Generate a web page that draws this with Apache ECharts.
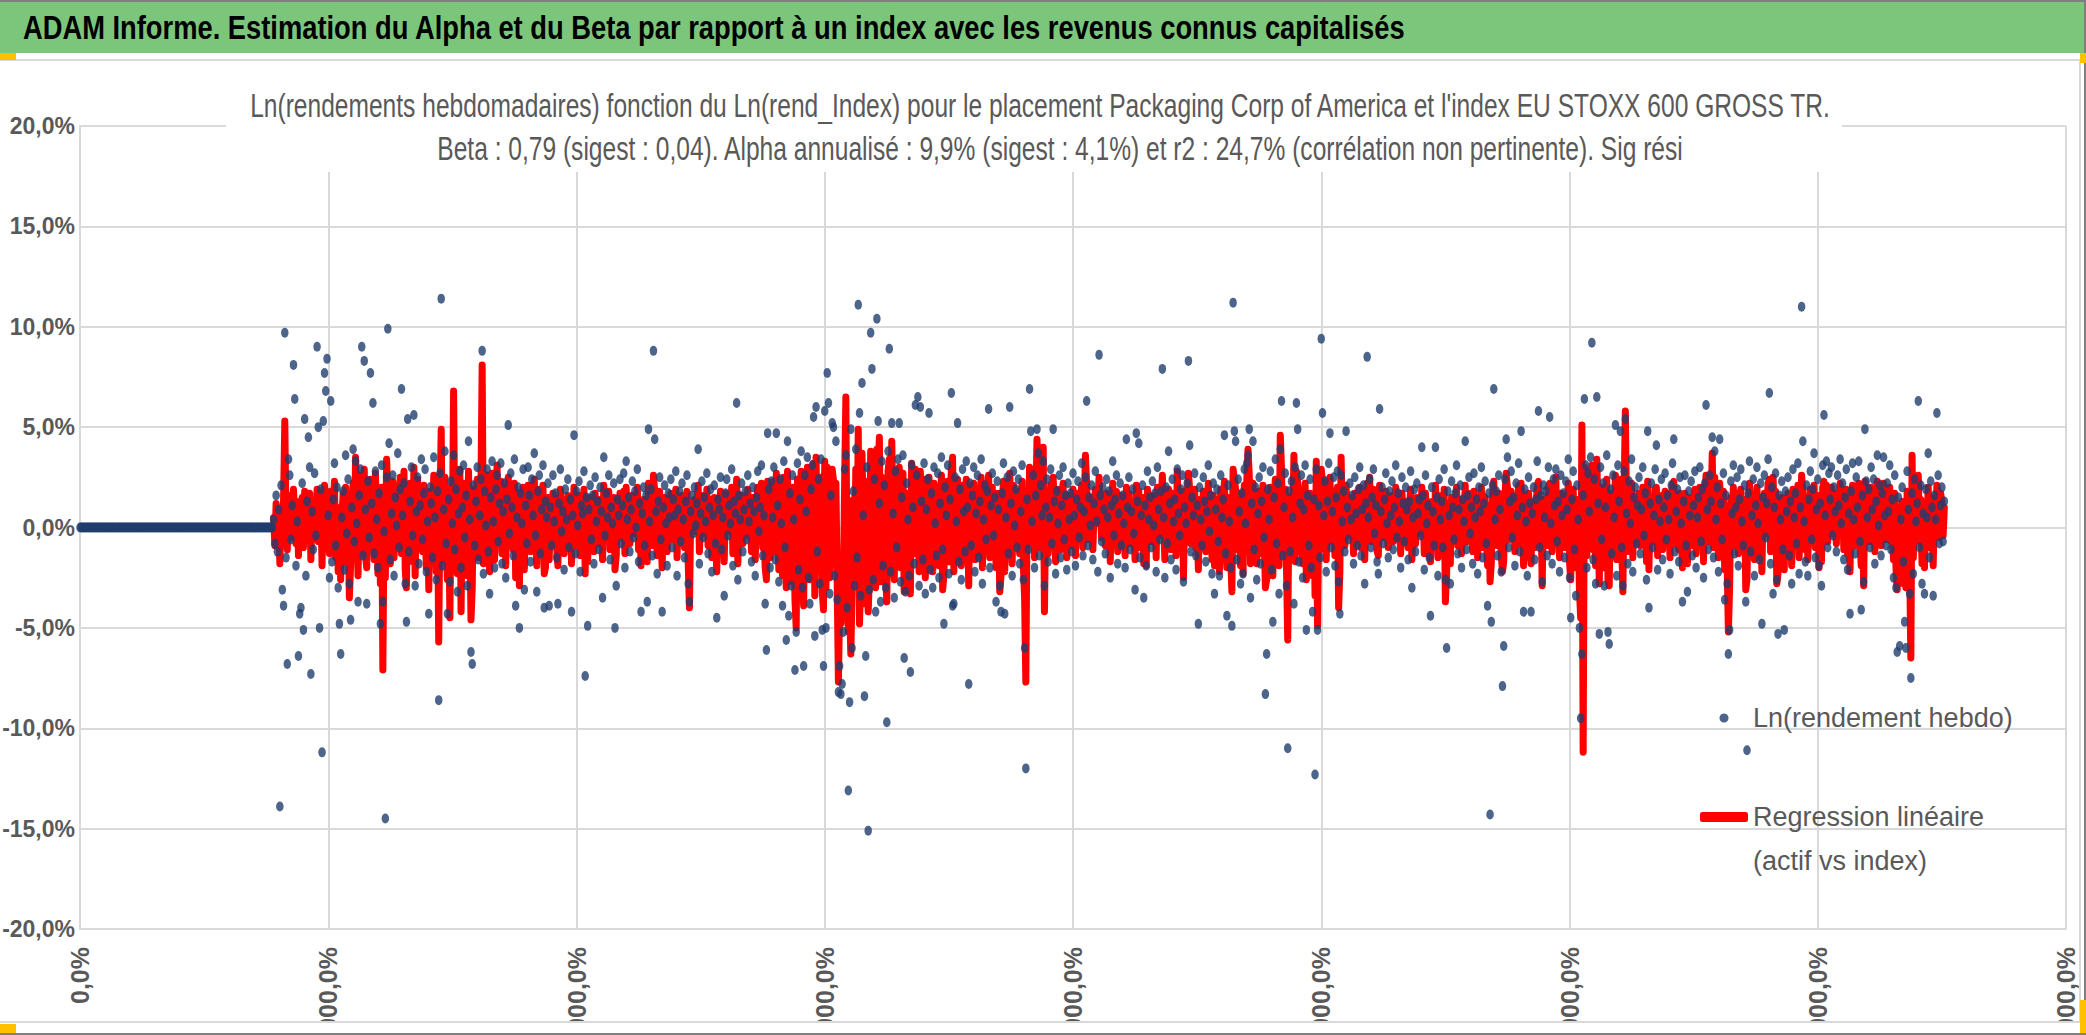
<!DOCTYPE html>
<html lang="fr">
<head>
<meta charset="UTF-8">
<title>ADAM Informe - Alpha et Beta</title>
<script src="https://cdn.jsdelivr.net/npm/echarts@6/dist/echarts.min.js"></script>
<style>
  html, body { margin: 0; padding: 0; background: #fff; }
  #chart { width: 2086px; height: 1035px; }
</style>
</head>
<body>
<div id="chart"></div>
<script>
// textes
const titreBandeau = 'ADAM Informe. Estimation du Alpha et du Beta par rapport à un index avec les revenus connus capitalisés';
const titreGraphique = "Ln(rendements hebdomadaires) fonction du Ln(rend_Index) pour le placement Packaging Corp of America et l'index EU STOXX 600 GROSS TR.";
const sousTitre = 'Beta : 0,79 (sigest : 0,04). Alpha annualisé : 9,9% (sigest : 4,1%) et r2 : 24,7% (corrélation non pertinente). Sig rési';
const nomRend = 'Ln(rendement hebdo)';
const nomReg = 'Regression linéaire';
const nomReg2 = '(actif vs index)';

// axes (valeurs en %)
const yMin = -20, yMax = 20, yPas = 5;
const xMin = 0, xMax = 1600, xPas = 200;

// Ln(rendement hebdo) en %, une valeur par semaine (index 0..1502)
const rendHebdo = [
  0,0,0,0,0,0,0,0,0,0,0,0,0,0,0,0,0,0,0,0,0,0,0,0,0,0,0,0,0,0,0,0,0,0,0,0,0,0,0,
  0,0,0,0,0,0,0,0,0,0,0,0,0,0,0,0,0,0,0,0,0,0,0,0,0,0,0,0,0,0,0,0,0,0,0,0,0,0,0,
  0,0,0,0,0,0,0,0,0,0,0,0,0,0,0,0,0,0,0,0,0,0,0,0,0,0,0,0,0,0,0,0,0,0,0,0,0,0,0,
  0,0,0,0,0,0,0,0,0,0,0,0,0,0,0,0,0,0,0,0,0,0,0,0,0,0,0,0,0,0,0,0,0,0,0,0,0,0,0,
  0.4,-0.8,1.6,-1.2,0.9,-13.9,2.1,-3.1,-3.9,9.7,-1.5,-6.8,3.4,2.6,-0.6,1.1,8.1,6.4,-1.9,0.3,
  -6.4,-4.3,-4.0,2.2,-5.1,5.4,-2.4,1.3,4.5,3.0,-7.3,0.8,-1.1,2.7,-0.4,9.0,5.0,-5.0,1.9,-11.2,
  5.3,7.7,6.8,8.4,0.6,-2.5,6.3,-1.7,1.4,3.2,-0.9,2.0,-3.0,-4.8,-6.3,0.5,1.8,-2.1,3.6,-0.3,
  2.4,-2.8,-4.6,1.0,3.9,-0.7,3.3,0.2,-3.7,1.6,2.9,9.0,-1.4,8.3,0.9,-3.8,2.3,-0.5,7.7,1.2,
  6.2,-1.3,2.8,0.4,-2.0,1.7,-4.8,3.1,-3.7,-0.2,-14.5,2.5,9.9,4.2,-1.6,0.7,2.6,-2.4,1.5,0.1,
  3.7,-1.0,1.9,6.9,0.6,2.2,-2.8,-4.7,5.4,-1.2,1.3,3.0,-0.4,5.6,-2.9,0.8,2.5,-1.8,1.1,3.4,
  -0.6,1.7,2.9,-2.2,0.3,-4.3,2.0,1.2,-1.5,3.5,0.5,-2.6,1.8,-8.6,2.7,11.4,-1.9,0.9,3.8,-0.8,
  -4.3,1.4,-2.7,2.3,0.2,3.6,-1.1,1.9,-3.2,0.7,2.8,-2.0,1.0,3.1,-0.5,1.6,-2.9,4.3,0.4,-6.2,
  -6.8,2.1,-0.9,1.3,3.0,-1.6,0.6,2.4,8.8,-2.3,1.8,0.1,2.9,-1.2,-3.3,1.5,3.3,0.3,-2.0,1.9,
  2.6,-0.7,1.2,3.2,-1.8,0.8,2.2,-2.5,1.4,5.1,-0.3,2.7,1.0,-1.4,3.4,-3.9,0.5,2.0,-5.0,1.7,
  0.2,2.9,-3.1,1.1,-0.8,3.0,1.6,-1.7,2.4,0.6,3.7,-0.4,-3.2,1.8,2.6,-1.3,0.9,3.1,-4.0,1.3,
  0.5,2.2,-3.9,1.0,-0.9,2.6,0.3,1.7,-1.5,-3.8,1.2,2.9,-0.2,0.8,-2.1,1.9,0.4,2.4,-1.0,1.4,
  -4.2,0.6,4.6,-1.3,1.8,0.1,2.3,-2.2,1.1,0.7,2.8,-7.4,1.5,-4.9,0.9,2.1,-0.6,1.6,-1.8,2.5,
  0.3,1.3,-1.1,2.0,0.8,-3.5,3.5,-0.4,1.7,0.5,2.6,-1.6,1.0,0.2,2.2,-5.0,-2.9,1.4,0.6,2.4,
  -0.8,1.1,2.7,-2.0,3.3,0.4,1.5,-1.2,0.9,2.3,-0.5,1.8,0.0,2.9,-1.7,1.2,-4.2,0.7,2.0,-0.9,
  1.6,-3.7,4.9,0.3,1.9,-1.4,8.8,4.4,0.8,-2.3,1.3,2.5,-0.6,-4.2,1.0,2.1,0.2,-1.9,1.7,0.5,
  2.4,-1.0,1.4,0.6,2.8,-2.4,0.9,1.8,-0.7,2.2,0.4,-1.5,1.3,2.6,-2.8,-3.7,0.8,1.6,-0.3,2.0,
  0.1,1.2,3.9,-1.8,0.7,2.3,-0.5,1.5,0.3,2.7,-1.3,1.0,1.9,-2.2,0.6,2.1,-0.8,-4.5,1.4,0.9,
  2.5,-1.1,0.5,-3.4,1.7,2.4,-0.4,1.1,0.2,2.9,-1.9,1.3,0.7,6.2,-2.6,1.6,0.4,2.2,-1.2,0.9,
  1.8,-0.6,2.6,0.3,1.2,-1.7,2.0,0.8,-2.4,1.5,2.8,-0.2,1.0,3.1,-1.4,0.6,-3.8,-6.1,4.7,1.9,
  -2.0,2.3,0.5,3.0,-1.6,4.7,1.1,-2.7,2.4,0.2,-3.9,3.3,-1.0,-5.6,4.3,-4.4,1.7,-2.9,2.6,0.4,
  -7.1,-5.2,3.2,-2.1,1.4,3.8,-3.0,-6.9,2.6,0.8,3.5,-2.5,-3.8,1.9,3.1,5.5,-5.4,6.0,-1.2,2.4,
  -2.8,3.4,-5.1,-6.9,5.8,-5.0,7.7,6.2,-3.3,1.6,5.2,5.0,-2.4,4.3,-3.6,-8.2,-6.9,-8.3,-7.8,-5.2,
  2.9,3.6,-4.0,-13.1,-8.7,4.9,-6.0,1.8,-2.9,3.9,-1.5,11.1,5.7,-3.4,7.2,0.6,-8.4,-6.4,3.0,-15.1,
  -3.1,9.7,7.9,-2.6,2.4,-4.2,10.4,5.3,1.2,-3.7,3.3,-1.9,2.1,-3.0,-9.7,3.8,8.9,-2.2,5.2,0.7,
  -3.5,2.8,-1.0,3.4,5.2,-2.7,1.5,3.6,-6.5,-3.2,2.2,0.4,-2.4,-7.2,3.1,1.0,-1.8,6.1,2.6,6.5,
  -2.9,6.0,1.3,-1.6,3.2,-3.3,0.9,2.4,5.7,-2.1,1.7,-3.0,3.0,0.2,-1.4,2.7,-2.5,1.2,3.5,-1.1,
  -4.8,2.0,0.6,3.1,-2.3,1.4,6.7,-3.9,-3.8,2.5,0.3,5.2,-1.7,1.9,-2.6,2.9,0.8,-1.2,3.3,1.0,
  -7.8,2.2,-0.9,1.6,3.0,-2.2,0.7,2.6,-1.5,1.3,3.4,-2.8,0.4,2.1,-0.6,1.8,5.9,-2.0,1.1,2.7,
  -0.4,1.5,-3.7,2.3,0.9,-2.9,-4.2,1.7,3.2,-4.3,0.5,2.5,-1.3,6.0,1.2,-2.4,2.8,0.1,1.9,-1.0,
  2.4,-1.8,0.8,3.1,-2.6,-6.0,-12.0,1.4,-1.1,6.9,4.8,0.3,2.6,-2.0,1.6,4.9,3.7,-1.4,2.1,0.6,
  3.3,-2.9,1.0,2.4,-1.7,0.5,2.9,-0.8,4.9,1.3,-2.3,1.8,0.2,2.6,-1.5,1.1,3.0,-0.6,1.6,-2.1,
  2.2,0.4,1.7,-1.2,2.7,0.6,-1.9,1.4,2.3,-0.5,1.0,3.2,-1.4,0.8,2.5,6.3,-0.9,1.5,0.1,2.1,
  -1.6,1.2,2.8,0.3,-2.2,8.6,1.6,-0.7,2.0,0.9,-1.3,2.4,0.5,1.8,-2.5,1.1,3.3,-0.4,1.4,2.6,
  -1.8,0.7,2.2,-0.9,1.6,0.2,-2.0,4.4,1.0,2.5,-1.1,0.8,1.9,-0.3,-3.1,4.7,1.3,4.2,-1.5,0.6,
  2.1,-3.5,1.1,-1.9,2.8,0.4,1.5,-1.0,2.3,0.1,1.7,-2.2,3.0,0.9,-0.6,1.8,7.9,0.5,-2.5,2.0,
  -0.8,3.8,1.2,-1.6,2.4,0.3,1.4,-2.1,2.9,0.7,-0.4,1.9,2.6,-2.7,1.0,0.2,2.2,8.3,4.1,-1.2,
  1.5,0.6,2.7,-1.4,1.1,-4.8,2.0,0.4,-0.9,2.5,1.3,-1.7,0.8,3.1,-0.2,1.6,-2.3,2.2,-3.3,0.9,
  1.9,-0.7,-2.4,2.6,0.5,1.4,4.6,-1.3,-4.4,2.1,0.3,-2.0,-4.9,11.2,4.8,4.3,-1.6,2.4,0.8,-2.8,
  1.7,-2.3,2.9,0.2,3.2,3.6,4.9,-3.5,1.2,4.3,-1.1,2.0,-2.6,0.7,2.5,-1.8,1.3,3.0,-0.5,-8.3,
  -6.3,1.9,0.4,2.8,-2.1,-4.7,1.5,3.4,-0.8,2.2,-3.3,3.9,6.3,-1.4,1.0,2.7,-2.9,-11.0,1.8,-1.2,
  2.3,0.5,-3.8,3.0,6.2,4.9,-1.7,1.2,2.6,-2.5,0.9,3.1,-5.1,1.6,-0.9,2.4,-2.0,-4.2,1.4,-12.3,
  2.9,-5.1,1.1,-1.5,9.4,5.7,0.6,2.3,-2.2,1.3,3.2,4.7,-1.0,0.8,2.5,-1.9,1.5,2.8,-2.7,-4.3,
  2.6,0.3,1.8,-1.2,4.8,1.0,-0.6,2.2,0.4,1.6,-1.8,2.5,0.7,-0.9,1.9,3.0,-1.4,0.9,2.1,-2.8,
  1.2,8.5,0.5,2.4,-1.0,1.5,2.9,-0.3,1.1,-1.7,-2.3,5.9,0.8,2.0,-0.8,1.4,2.7,0.2,-1.5,1.8,
  0.6,2.3,-1.1,1.0,3.1,-0.5,1.7,0.3,-2.0,2.5,1.2,-0.7,2.0,0.9,-1.6,1.3,2.8,-3.0,0.5,1.9,
  -1.2,2.2,0.7,1.4,-0.4,4.0,1.6,-2.1,2.6,0.2,1.1,-1.5,-4.4,2.0,0.8,-0.9,4.0,1.5,-2.4,2.4,
  0.4,1.3,-1.0,2.9,-2.6,-6.0,1.8,0.6,-2.8,2.3,1.0,-0.6,1.7,3.1,-1.3,0.9,2.1,-2.0,1.4,0.3,
  4.3,-1.1,1.6,2.5,-0.3,1.0,-1.8,2.7,0.5,1.4,-2.3,2.0,0.8,3.0,-1.5,1.2,2.3,-0.8,-3.9,1.7,
  -14.3,-4.7,2.1,6.9,0.4,1.8,-1.4,2.6,0.9,-2.2,-7.9,-5.9,2.4,4.4,3.5,-1.0,1.3,2.8,-0.5,1.5,
  -1.9,2.2,0.6,3.2,-1.2,4.8,1.0,-4.2,1.9,0.3,-2.4,2.5,1.2,-4.2,0.7,2.0,-1.6,1.4,3.3,5.8,
  -1.0,1.6,-2.7,2.1,0.5,1.8,-1.4,3.0,5.5,0.2,-1.8,2.4,1.1,2.9,-0.7,1.3,-2.2,2.6,0.6,1.7,
  -1.5,2.3,0.9,3.4,-2.5,-4.5,1.4,2.8,-1.1,-3.4,2.1,0.4,-5.0,-9.5,-6.3,1.6,6.4,3.1,-2.0,2.7,
  0.8,3.5,9.2,-1.6,2.4,-2.8,6.5,1.2,-5.3,3.0,-0.6,2.2,-2.9,1.0,3.6,-5.2,-5.8,1.9,-1.3,2.6,
  0.5,5.1,-2.4,3.1,1.3,4.8,-1.0,-2.9,2.8,5.4,0.7,-1.8,2.3,0.2,3.4,-2.2,1.5,2.0,-0.8,1.1,
  2.5,-1.3,0.9,3.0,-0.4,1.7,-2.6,4.8,-4.0,1.2,2.2,-1.0,0.6,2.9,4.1,-2.1,1.4,0.3,2.4,-1.6,
  1.0,2.7,-0.6,1.6,0.4,-2.3,2.1,3.2,4.4,-1.2,0.8,1.9,-1.7,2.5,0.2,-3.7,1.3,2.6,-0.9,-3.2,
  1.8,0.6,2.3,-1.4,1.1,2.8,-2.0,0.5,1.5,3.0,-0.7,1.9,-2.5,2.2,6.1,0.9,-1.1,2.6,1.3,4.5,
  -1.5,3.8,0.4,2.0,-2.2,4.4,1.2,-0.6,2.7,-3.6,1.6,-2.8,-6.3,-5.1,2.3,0.7,3.1,-1.3,1.0,2.5,
  -1.9,1.4,2.9,0.3,-0.9,2.1,-3.7,-11.1,1.7,3.3,-1.2,0.6,2.4,-2.4,1.1,3.0,0.2,-1.6,2.2,-4.8,
  1.5,2.6,-0.5,1.2,3.4,6.7,-1.8,2.0,-3.3,1.0,2.7,-2.6,-5.3,1.6,0.4,2.3,-1.1,-5.1,1.8,0.8,
  2.5,-1.4,1.3,-2.8,2.9,0.5,1.7,-0.8,3.2,-2.3,1.0,11.0,4.3,0.3,-1.7,2.1,-2.4,1.4,2.8,-0.6,
  1.9,3.7,-1.5,0.9,2.4,-1.9,1.2,-2.9,3.1,5.6,0.6,3.3,-1.0,2.7,1.4,3.0,-0.4,2.0,0.8,-1.2,
  2.6,1.1,3.4,0.2,2.2,-1.6,1.5,2.9,-2.1,0.7,-4.3,1.8,3.2,0.4,-1.3,2.5,1.0,3.3,-0.7,-4.1,
  1.6,-2.7,4.9,2.3,0.5,1.9,-1.0,3.0,0.9,2.4,-1.8,1.3,3.6,0.1,2.1,-1.4,1.7,3.5,0.6,-0.9,
  2.2,0.8,3.1,-1.1,1.4,-2.5,2.6,-3.0,-6.2,1.5,-5.9,0.4,2.0,-1.7,-4.7,-6.0,2.8,0.9,-3.3,-7.5,
  1.7,-2.3,2.4,0.3,1.2,6.3,-1.0,2.1,-2.8,0.7,-3.3,1.9,0.5,3.7,-1.5,2.3,1.0,-3.4,1.6,0.4,
  5.7,2.6,-0.8,1.1,2.0,-0.7,1.3
];

// régression linéaire (actif vs index) en %, à partir de la semaine 156
const debutRegression = 156;
const regLineaire = [
  0.5,-0.9,1.2,0.3,0.8,-1.8,0.9,-0.6,1.4,5.3,0.2,-1.1,1.6,0.4,-0.5,1.0,1.9,0.6,-0.8,1.3,
  -1.4,0.7,-0.3,1.5,-1.0,1.8,0.1,1.1,-0.6,1.7,-1.6,0.9,-0.4,1.3,0.2,1.9,-0.7,0.6,1.2,-1.9,
  1.4,2.1,0.3,1.6,-0.2,-1.3,1.8,-0.8,0.9,2.3,-1.5,0.6,-2.2,1.0,-2.6,0.4,1.7,-1.7,2.0,-0.4,
  1.3,-3.5,-1.9,0.8,2.2,-1.2,3.5,0.3,-2.4,1.5,2.6,-0.9,1.1,2.9,-1.4,-2.0,1.9,-0.5,2.4,0.7,
  1.6,-1.6,2.7,0.2,-2.3,1.2,-2.8,2.0,-7.1,0.5,-2.5,3.4,1.8,0.9,-1.8,1.4,2.3,-1.5,0.6,1.9,
  -0.9,1.5,2.5,-1.3,0.7,2.8,-2.1,-3.0,1.7,-0.6,2.2,0.4,-1.7,3.0,-2.4,1.1,2.4,-1.0,0.8,1.6,
  -1.2,2.1,0.5,-2.0,1.3,-3.1,1.8,0.2,-1.4,2.6,0.9,-2.2,1.5,-5.7,1.0,4.9,-1.6,0.6,2.5,-0.7,
  -2.6,1.4,-4.5,2.0,-0.3,6.8,-1.1,1.7,-2.3,0.8,2.9,-4.2,1.2,2.2,-0.6,1.4,-2.4,2.8,0.3,-4.6,
  -3.0,1.9,-0.8,1.1,2.4,-1.5,0.5,2.0,8.1,-1.8,1.3,0.2,2.6,-1.0,-2.2,1.2,2.7,0.4,-1.6,1.5,
  3.1,-0.6,1.0,2.3,-1.3,0.7,1.8,-1.9,1.2,2.5,-0.4,1.9,0.6,-1.1,2.2,-2.5,0.4,1.6,-2.9,1.3,
  0.1,2.0,-2.1,0.9,-0.6,2.1,1.1,-1.2,1.7,0.5,2.4,-0.3,-1.9,1.3,1.9,-0.9,0.7,2.1,-2.3,-2.0,
  0.6,1.5,-1.6,0.8,-0.5,1.7,0.3,1.2,-1.0,-1.9,0.9,1.9,-0.1,0.6,-1.3,1.4,0.4,1.6,-0.7,1.0,
  -1.8,0.5,2.0,-0.9,1.3,0.2,1.6,-1.4,0.8,0.5,1.9,-2.3,1.1,-1.7,0.7,1.5,-0.4,1.2,-1.2,1.7,
  0.3,1.0,-0.8,1.4,0.6,-1.6,2.1,-0.2,1.2,0.4,1.8,-1.1,0.8,0.2,1.5,-2.1,-1.4,1.0,0.5,1.7,
  -0.5,0.9,1.8,-1.3,2.0,0.3,1.1,-0.8,0.7,1.6,-0.3,1.3,0.1,2.0,-1.1,0.9,-1.9,0.6,1.4,-0.6,
  1.2,-1.7,2.2,0.3,1.4,-0.9,2.6,1.8,0.6,-1.4,1.0,1.8,-0.4,-2.0,0.8,1.5,0.2,-1.2,1.3,0.4,
  1.7,-0.6,1.0,0.5,1.9,-1.5,0.7,1.3,-0.4,1.6,0.3,-1.0,1.0,1.8,-1.8,-4.0,0.6,1.2,-0.2,1.4,
  0.1,0.9,2.1,-1.2,0.5,1.6,-0.3,1.1,0.3,1.9,-0.9,0.8,1.4,-1.5,0.5,1.5,-0.5,-2.2,1.0,0.7,
  1.8,-0.7,0.4,-1.7,1.2,1.7,-0.2,0.8,0.2,2.0,-1.3,1.0,0.5,2.4,-1.8,1.2,0.3,1.6,-0.8,0.7,
  1.3,-0.4,1.9,0.2,0.9,-1.2,1.5,0.6,-1.6,1.1,2.0,-0.1,0.8,2.2,-1.0,0.5,-2.0,-2.6,2.3,1.4,
  -1.5,1.7,0.4,2.3,-1.2,2.7,0.8,-2.1,1.9,0.2,-2.4,2.5,-0.8,-3.0,2.8,-2.7,1.3,-2.2,2.0,0.3,
  -3.6,-5.0,2.4,-1.6,1.0,2.8,-2.3,-3.9,2.0,0.6,3.0,-1.9,-2.6,1.4,2.3,3.2,-3.4,3.5,-0.9,1.8,
  -2.1,2.5,-3.2,-4.1,3.3,-3.0,3.0,2.6,-2.5,1.2,2.9,2.4,-1.8,2.2,-2.7,-7.7,-4.0,-4.8,-3.5,-2.9,
  2.2,6.5,-2.8,-5.2,-3.9,-6.3,-3.3,1.4,-2.2,2.9,-1.1,4.9,-4.8,-2.5,3.7,0.5,-3.8,-3.1,2.3,-4.2,
  -2.4,3.8,3.2,-1.9,1.8,-3.0,3.9,2.7,4.5,-2.7,2.5,-1.4,1.6,-2.2,-3.7,2.8,3.4,-2.3,4.3,0.5,
  -2.6,2.1,-0.7,2.5,3.0,-2.0,1.1,2.7,-3.2,-2.4,1.7,0.3,-1.8,-3.3,3.2,0.8,-1.3,2.9,1.9,2.6,
  -2.2,2.8,1.0,-1.2,2.4,-2.5,0.7,1.8,2.5,-1.6,1.3,-2.2,2.2,0.2,-1.0,2.0,-1.9,0.9,2.6,-3.1,
  -2.4,1.5,0.4,2.3,-1.7,1.0,2.9,3.5,-2.2,1.8,0.2,2.4,-1.3,1.4,-1.9,2.1,0.6,-0.9,2.4,0.7,
  -2.9,1.6,-0.7,1.2,2.2,-1.6,0.5,1.9,-1.1,1.0,2.5,-2.0,0.3,1.6,-0.4,1.3,2.6,-1.5,0.8,2.0,
  -0.3,1.1,-2.0,1.7,0.7,-3.2,-2.4,1.3,2.3,-2.2,0.4,1.8,-1.0,2.7,0.9,-1.8,2.1,0.1,1.4,-0.7,
  1.8,-1.3,0.6,2.3,-1.9,-3.5,-7.7,1.0,-0.8,3.0,2.4,0.2,1.9,-1.5,1.2,4.4,2.6,-1.0,1.5,0.4,
  4.0,-4.2,0.7,1.8,-1.3,0.4,2.1,-0.6,2.5,1.0,-1.7,1.3,0.2,1.9,-1.1,0.8,2.2,-0.4,1.2,-1.5,
  1.6,0.3,1.2,-0.9,1.9,0.5,-1.4,1.0,1.7,-0.3,0.7,2.1,-1.0,0.6,3.6,2.2,-0.6,1.1,0.1,1.5,
  -1.1,0.9,1.9,0.2,1.3,2.5,1.1,-0.5,1.4,0.7,-0.9,1.7,0.4,1.3,-1.7,0.8,2.2,-0.2,1.0,1.8,
  -1.2,0.5,1.6,-0.6,1.2,0.2,-1.4,2.0,0.7,1.7,-0.8,0.6,1.3,-0.2,-1.6,2.1,0.9,1.8,-1.0,0.4,
  1.5,-1.8,0.8,-1.9,1.9,0.3,1.1,-0.7,1.6,0.1,1.2,-1.5,2.0,0.6,-0.4,1.3,2.6,0.4,-1.6,1.4,
  -0.5,1.9,0.9,-1.1,1.7,0.2,1.0,-1.4,2.8,0.5,-0.3,1.4,1.8,-2.5,0.7,0.2,1.6,2.7,1.9,-0.8,
  1.1,0.4,1.9,-1.0,0.8,-2.1,1.4,0.3,-0.6,1.8,0.9,-1.2,0.6,2.2,-0.1,1.1,-1.6,1.6,-1.9,0.7,
  1.4,-0.5,-2.2,1.9,0.4,1.0,2.3,-0.9,-2.0,1.5,0.2,-1.4,-3.2,2.9,2.4,1.9,-1.1,1.7,0.6,-1.9,
  1.2,-2.3,2.1,0.2,2.3,3.9,2.6,-1.8,0.9,2.2,-0.8,1.4,-1.8,0.5,1.8,-1.3,0.9,2.1,-0.4,-3.0,
  -2.6,1.3,0.3,2.0,-1.5,-2.4,1.1,2.4,-0.6,1.6,-1.9,4.6,2.9,-1.0,0.7,1.9,-2.0,-5.6,1.3,-0.9,
  1.6,0.4,3.6,-1.7,2.8,2.2,-1.2,0.9,1.9,-1.8,0.6,2.2,-2.6,1.1,-0.6,1.7,-1.4,-2.4,1.0,-3.4,
  3.3,-4.9,0.8,-1.1,2.9,2.3,0.4,1.6,-1.6,0.9,2.2,2.5,-0.7,0.6,1.8,-1.4,1.1,2.0,-4.0,-2.2,
  3.5,0.2,1.3,-0.9,2.1,0.7,-0.4,1.5,0.3,1.1,-1.3,1.7,0.5,-0.6,1.3,2.0,-1.0,0.6,1.4,-1.6,
  0.8,2.2,0.3,2.5,-0.7,1.0,1.9,-0.2,0.7,-1.2,-1.4,2.1,0.5,1.4,-0.5,0.9,1.8,0.1,-1.0,1.2,
  0.4,1.6,-0.7,0.7,2.0,-0.3,1.1,0.2,-1.3,1.7,0.8,-0.5,1.3,0.6,-1.0,0.9,1.9,-1.6,0.3,1.3,
  -0.8,1.5,0.5,1.0,-0.3,2.0,1.1,-1.3,1.7,0.1,0.7,-1.0,-1.7,1.3,0.5,-0.6,2.1,1.0,-1.5,1.6,
  0.3,0.9,-0.7,1.9,-3.7,-2.4,1.2,0.4,-1.8,1.5,0.7,-0.4,1.1,2.0,-0.9,0.6,1.4,-1.3,0.9,0.2,
  2.1,-0.7,1.1,1.7,-0.2,0.7,-1.2,1.8,0.3,0.9,-1.5,1.3,0.5,2.0,-1.0,0.8,1.5,-0.5,-1.9,1.1,
  -2.7,-1.8,1.4,2.3,0.3,1.2,-0.9,1.7,0.6,-1.4,-2.2,-1.7,1.6,2.7,2.0,-0.6,0.9,1.8,-0.3,1.0,
  -1.2,1.5,0.4,2.1,-0.8,2.2,0.7,-1.9,1.3,0.2,-1.5,1.7,0.8,-1.8,0.5,1.3,-1.0,0.9,2.1,2.3,
  -0.7,1.1,-2.9,1.4,0.3,1.2,-0.9,2.0,2.2,0.1,-1.2,1.6,0.7,2.5,-0.5,0.9,-1.5,1.7,0.4,1.1,
  -1.0,1.5,0.6,2.2,-1.7,-2.6,0.9,1.9,-0.8,-2.0,1.4,0.3,-3.1,-4.5,5.1,-11.2,3.0,2.0,-1.4,1.8,
  0.5,2.3,3.1,-1.1,1.6,-1.9,3.4,0.8,-2.8,2.0,-0.4,1.5,-2.0,0.7,2.4,-2.6,-2.9,1.3,-0.9,1.7,
  0.3,2.6,-1.6,2.0,0.9,2.4,-0.7,-3.2,1.8,5.8,0.5,-1.2,1.5,0.1,2.2,-1.5,1.0,1.3,-0.5,0.7,
  1.7,-0.9,0.6,2.0,-0.3,1.1,-1.7,2.3,-2.1,0.8,1.5,-0.7,0.4,1.9,2.0,-1.4,0.9,0.2,1.6,-1.1,
  0.7,1.8,-0.4,1.1,0.3,-1.5,1.4,2.1,2.3,-0.8,0.5,1.3,-1.1,1.7,0.1,-2.0,0.9,1.7,-0.6,-1.8,
  1.2,0.4,1.5,-0.9,0.7,1.9,-1.3,0.3,1.0,2.0,-0.5,1.3,-1.7,1.5,2.6,0.6,-0.7,1.7,0.9,3.7,
  -1.0,2.5,0.3,1.3,-1.5,2.2,0.8,-0.4,1.8,-2.1,1.1,-1.9,-5.2,-3.0,1.5,0.5,2.0,-0.9,0.7,1.7,
  -1.3,0.9,1.9,0.2,-0.6,1.4,-3.1,-2.6,1.1,2.2,-0.8,0.4,1.6,-1.6,0.7,2.0,0.1,-1.1,1.5,-2.2,
  1.0,1.7,-0.3,0.8,2.2,2.4,-1.2,1.3,2.5,0.7,1.8,-2.8,-2.3,1.1,0.3,1.5,-0.7,-2.1,1.2,0.5,
  1.7,-0.9,0.9,-1.9,1.9,0.3,1.1,-0.5,2.1,-1.5,0.7,2.6,1.8,0.2,-1.1,1.4,-1.6,0.9,1.9,-0.4,
  1.3,2.1,-1.0,0.6,1.6,-2.0,0.8,-1.7,2.0,2.3,0.4,2.1,-0.7,1.8,0.9,2.0,-0.3,1.3,0.5,-0.8,
  1.7,0.7,2.2,0.1,1.5,-1.1,1.0,1.9,-1.3,0.5,-2.2,1.2,2.1,0.3,-0.9,1.7,0.7,2.2,-0.5,-1.9,
  1.1,-2.9,2.3,1.5,0.3,1.3,-0.7,2.0,0.6,1.6,-1.2,0.9,2.3,0.1,1.4,-0.9,1.1,2.2,0.4,-0.6,
  1.5,0.5,2.0,-0.7,0.9,-1.6,1.7,-2.0,-3.1,1.0,-2.8,0.3,1.3,-1.1,-2.4,-3.0,1.8,0.6,-1.7,-6.5,
  3.6,-1.5,1.6,0.2,0.8,2.6,-0.7,1.4,-1.8,0.5,-2.0,1.2,0.3,2.0,-1.0,1.5,0.6,-1.9,1.0,0.3,
  2.1,1.6,-0.5,1.7,1.3,-0.4,1.0
];

const police = "'Liberation Sans', Arial, sans-serif";
const gris = '#595959';
const grille = '#d9d9d9';

function pct(v) {
  return v.toFixed(1).replace('.', ',') + '%';
}

// largeur d'un texte, pour resserrer les titres comme dans l'original
const mesure = document.createElement('canvas').getContext('2d');
function largeur(texte, font) {
  mesure.font = font;
  return mesure.measureText(texte).width;
}

const fontBandeau = "bold 33px 'Liberation Sans'";
const fontTitre = "33px 'Liberation Sans'";
const echBandeau = 1384 / largeur(titreBandeau, fontBandeau);
const echTitre = 1583 / largeur(titreGraphique, fontTitre);

const pointsRend = rendHebdo.map((v, i) => [i, v]);
const pointsReg = regLineaire.map((v, i) => [debutRegression + i, v]);

const chart = echarts.init(document.getElementById('chart'), null, { renderer: 'svg', width: 2086, height: 1035 });

chart.setOption({
  animation: false,
  backgroundColor: '#fff',
  textStyle: { fontFamily: police },
  legend: [
    {
      left: 1719.5, top: 696, padding: 0,
      itemWidth: 48, itemHeight: 9,
      selectedMode: false,
      data: [{ name: nomRend, icon: 'circle' }],
      textStyle: { fontFamily: police, fontSize: 27, lineHeight: 44, color: gris }
    },
    {
      left: 1700, top: 751, padding: 0,
      itemWidth: 48, itemHeight: 10,
      selectedMode: false,
      data: [{ name: nomReg, icon: 'roundRect' }],
      formatter: n => ' \n' + n + '\n' + nomReg2,
      textStyle: { fontFamily: police, fontSize: 27, lineHeight: 44, color: gris }
    }
  ],
  grid: { left: 80, top: 126, width: 1986, height: 803, containLabel: false, outerBoundsMode: 'none' },
  xAxis: {
    type: 'value',
    min: xMin, max: xMax, interval: xPas,
    axisLine: { show: true, onZero: false, lineStyle: { color: grille, width: 2 } },
    axisTick: { show: false },
    splitLine: { show: true, lineStyle: { color: grille, width: 2 } },
    axisLabel: {
      rotate: 90, margin: 18,
      color: gris, fontWeight: 'bold', fontSize: 25, fontFamily: police,
      formatter: v => pct(v * 100)
    }
  },
  yAxis: {
    type: 'value',
    min: yMin, max: yMax, interval: yPas,
    axisLine: { show: true, lineStyle: { color: grille, width: 2 } },
    axisTick: { show: false },
    splitLine: { show: true, lineStyle: { color: grille, width: 2 } },
    axisLabel: {
      margin: 5,
      color: gris, fontWeight: 'bold', fontSize: 23, fontFamily: police,
      formatter: v => pct(v)
    }
  },
  series: [
    {
      name: nomReg,
      type: 'line',
      data: pointsReg,
      showSymbol: false,
      z: 2,
      itemStyle: { color: '#ff0000' },
      lineStyle: { color: '#ff0000', width: 7, cap: 'round', join: 'round' }
    },
    {
      name: nomRend,
      type: 'scatter',
      data: pointsRend,
      symbol: 'path://M0,-1A1,1,0,1,1,0,1A1,1,0,1,1,0,-1Z',
      symbolSize: [7.5, 10],
      z: 3,
      itemStyle: { color: '#203d6e' }
    }
  ],
  graphic: [
    // bandeau vert et cadre
    { type: 'rect', z: 0, shape: { x: 0, y: 0, width: 2086, height: 53 }, style: { fill: '#7cc67c' } },
    { type: 'rect', z: 1, shape: { x: 0, y: 0, width: 2086, height: 2 }, style: { fill: '#7f7f7f' } },
    { type: 'rect', z: 1, shape: { x: 0, y: 59, width: 2080, height: 2 }, style: { fill: grille } },
    {
      type: 'text', z: 2, x: 23, y: 28, scaleX: echBandeau,
      style: { text: titreBandeau, font: fontBandeau, fill: '#000', textVerticalAlign: 'middle', verticalAlign: 'middle' }
    },
    // titre du graphique sur fond blanc
    { type: 'rect', z: 5, shape: { x: 226, y: 80, width: 1616, height: 92 }, style: { fill: '#fff' } },
    {
      type: 'text', z: 6, x: 1040, y: 106, scaleX: echTitre,
      style: { text: titreGraphique, font: fontTitre, fill: gris, align: 'center', textAlign: 'center', verticalAlign: 'middle', textVerticalAlign: 'middle' }
    },
    {
      type: 'text', z: 6, x: 1060, y: 149, scaleX: echTitre,
      style: { text: sousTitre, font: fontTitre, fill: gris, align: 'center', textAlign: 'center', verticalAlign: 'middle', textVerticalAlign: 'middle' }
    },
    // bas de cadre : coupe les libellés de l'axe X
    { type: 'rect', z: 100, shape: { x: 0, y: 1023, width: 2086, height: 12 }, style: { fill: '#fff' } },
    { type: 'rect', z: 101, shape: { x: 0, y: 1021, width: 2080, height: 2 }, style: { fill: grille } },
    { type: 'rect', z: 101, shape: { x: 2079, y: 59, width: 2, height: 964 }, style: { fill: grille } },
    { type: 'rect', z: 101, shape: { x: 0, y: 1033, width: 2086, height: 2 }, style: { fill: '#7f7f7f' } },
    { type: 'rect', z: 101, shape: { x: 2084, y: 0, width: 2, height: 1035 }, style: { fill: '#7f7f7f' } },
    { type: 'rect', z: 102, shape: { x: 0, y: 53, width: 16, height: 7 }, style: { fill: '#ffc000' } },
    { type: 'rect', z: 102, shape: { x: 2080, y: 53, width: 6, height: 10 }, style: { fill: '#ffc000' } },
    { type: 'rect', z: 102, shape: { x: 0, y: 1024, width: 16, height: 9 }, style: { fill: '#ffc000' } },
    { type: 'rect', z: 102, shape: { x: 2080, y: 1000, width: 6, height: 33 }, style: { fill: '#ffc000' } }
  ]
});
</script>
</body>
</html>
